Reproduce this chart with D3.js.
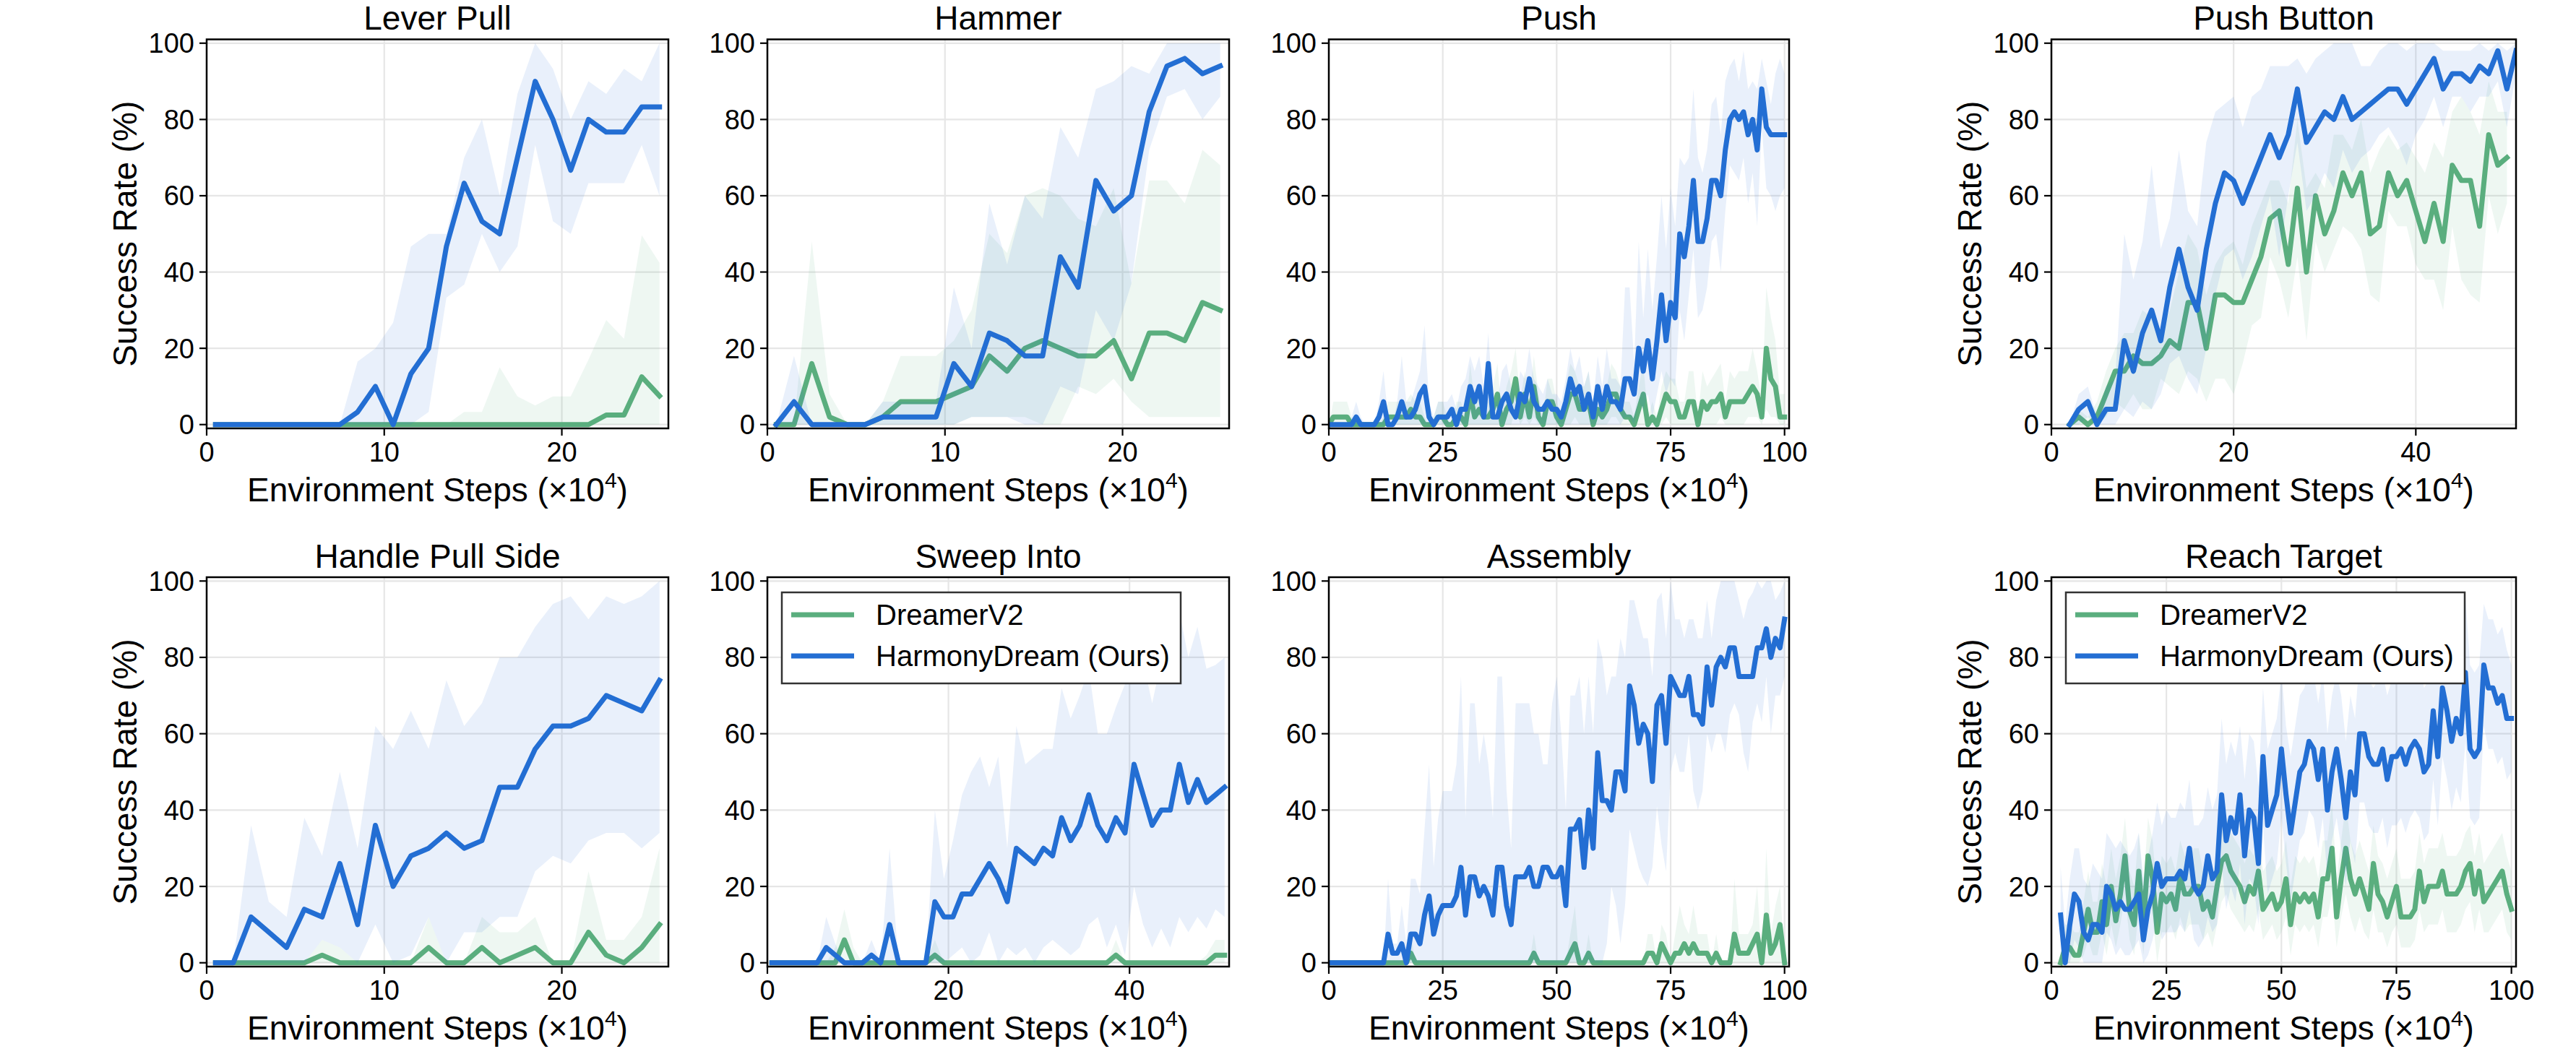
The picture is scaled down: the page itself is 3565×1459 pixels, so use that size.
<!DOCTYPE html>
<meta charset="utf-8">
<style>
body { margin: 0; background: #fff; }
text { font-family: "Liberation Sans", Arial, sans-serif; fill: #000; }
</style>
<body>
<script src="https://cdn.jsdelivr.net/npm/d3@7"></script>
<script>
// ---- Lever Pull (x = 0.5 .. 25.5) ----
var leverHarmony   = [0,0,0,0,0,0,0,0,3.3,10,0,13.3,20,46.7,63.3,53.3,50,70,90,80,66.7,80,76.7,76.7,83.3,83.3];
var leverHarmonyHi = [0,0,0,0,0,0,0,0,16.5,20,26.7,46.7,50,50,70,80,60,86.7,100,93.3,80,90,86.7,93.3,90,100];
var leverHarmonyLo = [0,0,0,0,0,0,0,0,0,0,0,0,3.3,33.3,36.7,50,40,46.7,73.3,53.3,50,63.3,63.3,63.3,73.3,60];
var leverDreamer   = [0,0,0,0,0,0,0,0,0,0,0,0,0,0,0,0,0,0,0,0,0,0,2.5,2.5,12.5,7.5];
var leverDreamerHi = [0,0,0,0,0,0,0,0,0,0,0,0,0,0,3.3,3.3,15,7.4,5,7.4,7.4,17,27.4,22.5,49.6,42.4];
var leverDreamerLo = [0,0,0,0,0,0,0,0,0,0,0,0,0,0,0,0,0,0,0,0,0,0,0,0,0,0];

// ---- Hammer (x = 0.5 .. 25.5) ----
var hammerHarmony   = [0,6,0,0,0,0,2,2,2,2,16,10,24,22,18,18,44,36,64,56,60,82,94,96,92,94];
var hammerHarmonyHi = [0,18,0,0,0,0,6,6,6,6,36,20,58,42,60,54,78,70,88,90,94,92,100,100,100,100];
var hammerHarmonyLo = [0,0,0,0,0,0,0,0,0,0,0,2,2,2,0,0,10,8,30,22,37,72,86,88,80,86];
var hammerDreamer   = [0,0,16,2,0,0,2,6,6,6,8,10,18,14,20,22,20,18,18,22,12,24,24,22,32,30];
var hammerDreamerHi = [0,0,48,8,0,0,6,18,18,18,22,30,50,45,60,62,60,54,52,62,37,64,64,58,72,68];
var hammerDreamerLo = [0,0,0,0,0,0,0,0,0,0,0,2,2,2,2,0,0,10,8,12,6,2,2,2,2,2];

// ---- Push (x = 0 .. 100) ----
var pushHarmony = [0,0,0,0,0,0,2,0,0,0, 0,2,6,0,0,2,6,2,2,4, 8,10,2,0,2,2,2,4,0,4,
  4,10,6,10,2,16,2,2,6,8, 4,2,8,6,12,6,4,4,6,4, 4,2,6,12,8,10,4,8,2,10,
  4,10,6,6,4,12,12,8,20,14, 22,12,22,34,22,32,28,50,44,52, 64,48,48,54,64,64,60,72,80,82,
  80,82,76,80,72,88,78,76,76,76,76];
var pushHarmonyHi = [0,0,0,0,0,2,6,2,0,0, 0,6,14,2,0,6,18,6,6,10, 14,26,6,2,6,6,6,8,4,10,
  12,18,14,18,10,24,6,6,14,16, 10,6,14,12,20,12,10,8,12,8, 8,6,12,20,14,18,10,14,6,18,
  10,20,12,12,10,36,36,16,48,28, 46,30,44,60,46,62,52,70,68,70, 88,70,66,72,84,86,76,90,94,96,
  90,98,88,90,88,96,90,84,92,96,92];
var pushHarmonyLo = [0,0,0,0,0,0,0,0,0,0, 0,0,0,0,0,0,0,0,0,0, 0,0,0,0,0,0,0,0,0,0,
  0,0,0,0,0,0,0,0,0,0, 0,0,0,0,0,0,0,0,0,0, 0,0,0,0,0,0,0,0,0,0,
  0,0,0,0,0,2,2,0,6,4, 8,2,8,14,8,12,10,30,22,34, 46,28,30,36,48,50,40,56,68,66,
  64,70,58,66,52,78,62,60,56,60,62];
var pushDreamer = [0,2,2,2,2,0,0,0,0,0, 0,0,0,2,2,2,2,2,4,2, 2,0,0,0,2,2,0,0,2,2,
  0,8,2,4,2,2,4,8,0,4, 6,12,2,8,2,10,2,0,6,6, 2,0,4,8,8,4,4,6,0,4,
  2,4,8,8,4,2,2,0,4,8, 0,2,0,4,8,6,6,2,2,6, 6,0,6,4,6,6,8,2,6,6,
  6,6,8,10,8,2,20,12,10,2,2];
var pushDreamerHi = [0,6,6,6,6,2,0,0,0,0, 0,0,2,6,6,6,6,6,8,6, 6,2,0,2,6,6,2,0,6,6,
  2,16,6,10,6,6,10,16,2,10, 14,20,6,14,6,18,8,2,12,12, 6,2,10,16,14,10,10,14,2,10,
  6,10,16,14,10,6,6,2,10,16, 2,6,2,10,14,12,12,6,6,14, 14,2,14,10,12,14,16,6,14,12,
  14,14,14,20,14,6,36,28,22,8,8];
var pushDreamerLo = [0,0,0,0,0,0,0,0,0,0, 0,0,0,0,0,0,0,0,0,0, 0,0,0,0,0,0,0,0,0,0,
  0,0,0,0,0,0,0,0,0,0, 0,4,0,2,0,2,0,0,0,0, 0,0,0,0,2,0,0,0,0,0,
  0,0,2,2,0,0,0,0,0,0, 0,0,0,0,2,0,0,0,0,0, 0,0,0,0,0,0,2,0,0,0,
  0,0,2,2,2,0,4,2,2,0,0];

// ---- Push Button (harmony x = 2 .. 51, dreamer x = 2 .. 50) ----
var buttonHarmony   = [0,4,6,0,4,4,22,14,24,30, 22,36,46,36,30,46,58,66,64,58, 64,70,76,70,76,88,74,78,82,80,
  86,80,82,84,86,88,88,84,88,92, 96,88,92,92,90,94,92,98,88,98];
var buttonHarmonyHi = [0,8,10,2,10,12,50,38,48,68, 46,54,72,56,52,74,82,84,86,78, 86,88,94,94,94,96,92,96,98,100,
  100,100,94,94,98,100,100,98,100,100, 100,98,98,98,98,100,98,100,98,100];
var buttonHarmonyLo = [0,0,2,0,0,0,4,2,6,4, 8,16,18,12,8,20,34,44,46,38, 44,52,60,44,60,74,56,60,66,62,
  72,66,70,72,76,78,74,68,76,80, 86,78,86,86,82,86,86,90,78,92];
var buttonDreamer   = [0,2,0,2,8,14,14,18,16,16, 18,22,20,32,32,20,34,34,32,32, 38,44,54,56,42,62,40,60,50,56,
  66,60,66,50,52,66,60,64,56,48, 58,48,68,64,64,52,76,68,70];
var buttonDreamerHi = [0,4,2,6,14,20,24,24,30,28, 24,30,40,50,46,34,42,46,48,42, 52,58,64,64,58,80,62,66,62,76,
  76,72,80,66,72,76,72,74,70,66, 74,70,82,86,82,76,90,82,82];
var buttonDreamerLo = [0,0,0,0,2,6,4,8,4,4, 12,10,8,14,12,6,12,12,8,16, 26,28,44,38,28,44,22,48,40,46,
  52,50,46,34,32,56,52,52,42,38, 38,30,52,38,34,32,60,50,58];

// ---- Handle Pull Side (x = 0.5 .. 25.5) ----
var handleHarmony   = [0,0,12,8,4,14,12,26,10,36,20,28,30,34,30,32,46,46,56,62,62,64,70,68,66,74];
var handleHarmonyHi = [0,0,36,16,12,38,28,50,30,62,56,66,56,74,62,68,80,80,88,94,96,90,96,94,96,100];
var handleHarmonyLo = [0,0,0,0,0,0,6,4,0,10,0,2,12,0,8,8,12,12,24,28,26,32,34,34,30,34];
var handleDreamer   = [0,0,0,0,0,0,2,0,0,0,0,0,4,0,0,4,0,2,4,0,0,8,2,0,4,10];
var handleDreamerHi = [0,0,0,0,0,0,6,4,0,0,0,0,12,0,0,12,8,8,12,0,0,24,6,6,12,30];
var handleDreamerLo = [0,0,0,0,0,0,0,0,0,0,0,0,0,0,0,0,0,0,0,0,0,0,0,0,0,0];

// ---- Sweep Into (x = 0.5 .. 50.5) ----
var sweepHarmony   = [0,0,0,0,0,0,4,2,0,0, 0,2,0,10,0,0,0,0,16,12, 12,18,18,22,26,22,16,30,28,26,
  30,28,38,32,36,44,36,32,38,34, 52,44,36,40,40,52,42,48,42,44, 46];
var sweepHarmonyHi = [0,0,0,0,0,0,12,5,0,0, 0,6,0,30,0,0,0,0,40,22, 32,44,50,54,46,54,30,62,52,54,
  56,56,72,64,70,77,60,60,67,73, 82,79,68,79,77,92,80,88,77,78, 80];
var sweepHarmonyLo = [0,0,0,0,0,0,0,0,0,0, 0,0,0,0,0,0,0,0,0,0, 2,4,0,2,8,0,4,2,4,0,
  4,6,4,2,4,10,12,4,10,2, 20,10,4,9,4,12,8,12,9,14, 12];
var sweepDreamer   = [0,0,0,0,0,0,0,0,6,0, 0,0,0,0,0,0,0,0,2,0, 0,0,0,0,0,0,0,0,0,0,
  0,0,0,0,0,0,0,0,2,0, 0,0,0,0,0,0,0,0,0,2, 2];
var sweepDreamerHi = [0,0,0,0,0,0,0,4,14,4, 0,0,0,0,0,0,0,0,6,0, 0,0,0,0,0,0,0,0,0,0,
  0,0,0,0,0,0,0,0,6,0, 0,0,0,0,0,0,0,0,2,6, 6];
var sweepDreamerLo = [0,0,0,0,0,0,0,0,0,0, 0,0,0,0,0,0,0,0,0,0, 0,0,0,0,0,0,0,0,0,0,
  0,0,0,0,0,0,0,0,0,0, 0,0,0,0,0,0,0,0,0,0, 0];

// ---- Assembly (x = 0 .. 100) ----
var assemblyHarmony = [0,0,0,0,0,0,0,0,0,0, 0,0,0,7.5,2.5,2.5,5,0,7.5,7.5, 5,12.5,17.5,7.5,12.5,15,15,15,17.5,25,
  12.5,22.5,22.5,17.5,20,17.5,12.5,25,25,15, 10,22.5,22.5,22.5,25,20,20,25,25,22.5,
  22.5,25,15,35,35,37.5,25,40,30,55, 42.5,42.5,40,50,50,45,72.5,67.5,57.5,62.5,
  60,47.5,67.5,70,57.5,75,72.5,70,70,75, 65,65,62.5,77.5,67.5,77.5,80,77.5,82.5,82.5,
  75,75,75,75,82.5,82.5,87.5,80,85,82.5,90];
var assemblyHarmonyHi = [0,0,0,0,0,0,0,0,0,0, 0,0,0,22,5,5,15,5,22,22, 18,35,52,25,38,45,45,45,52,75,
  38,68,68,52,60,52,38,75,75,45, 30,68,68,68,68,60,60,52,52,68,
  75,60,40,70,70,75,60,75,60,85, 80,70,75,75,85,80,95,95,90,85,
  85,75,95,97,85,100,90,90,85,90, 90,85,85,95,85,95,100,100,100,100,
  95,90,95,97,100,98,100,100,95,97,100];
var assemblyHarmonyLo = [0,0,0,0,0,0,0,0,0,0, 0,0,0,0,0,0,0,0,0,0, 0,0,0,0,0,0,0,0,0,0,
  0,0,0,0,0,0,0,0,0,0, 0,0,0,0,0,0,0,0,0,0, 0,0,0,0,0,0,0,0,0,0,
  0,5,20,15,5,15,35,30,25,22, 20,25,41,31,24,50,55,50,50,60, 45,40,45,60,55,60,60,55,65,68,
  65,55,50,63,68,63,75,60,70,70,75];
var assemblyDreamer = [0,0,0,0,0,0,0,0,0,0, 0,0,0,0,0,0,0,0,2.5,0, 0,0,0,0,0,0,0,0,0,0,
  0,0,0,0,0,0,0,0,0,0, 0,0,0,0,0,2.5,0,0,0,0, 0,0,0,2.5,5,0,0,2.5,0,0,
  0,0,0,0,0,0,0,0,0,0, 2.5,2.5,0,5,2.5,0,2.5,2.5,5,2.5, 5,2.5,2.5,2.5,0,2.5,0,0,0,7.5,
  2.5,2.5,2.5,5,7.5,0,12.5,2.5,5,10,0];
var assemblyDreamerHi = [0,0,0,0,0,0,0,0,0,0, 0,0,0,0,0,0,0,0,7.5,0, 0,0,0,0,0,0,0,0,0,0,
  0,0,0,0,0,0,0,0,0,0, 0,0,0,0,0,7.5,0,0,0,0, 0,0,0,7.5,15,0,0,7.5,0,0,
  0,0,0,0,0,0,0,0,0,0, 7.5,7.5,0,10,7.5,0,7.5,15,10,7.5, 15,7.5,7.5,7.5,0,7.5,0,0,0,22,
  7.5,7.5,7.5,10,20,0,30,7.5,15,20,0];
var assemblyDreamerLo = assemblyDreamer.map(function() { return 0; });

// ---- Reach Target (x = 2 .. 100) ----
var reachHarmony = [12.5,0,10,18,16,8,6,10,10,8, 20,18,14,16,14,14,16,18,6,14,
  18,26,20,22,22,22,24,22,30,20, 18,20,28,22,24,44,32,38,34,44,
  28,40,38,26,54,36,40,44,56,44, 34,42,50,52,58,56,48,56,40,50,
  56,48,38,50,44,60,60,54,52,52, 56,48,54,54,56,52,56,58,56,50,
  52,66,54,72,66,58,64,60,76,56, 54,56,78,72,72,68,70,64,64];
var reachHarmonyHi = [25,10,22,30,30,22,20,26,24,22, 34,32,30,32,30,28,30,34,22,28,
  34,42,36,40,38,38,42,40,48,36, 36,38,46,40,44,64,52,58,54,62,
  48,60,58,46,72,56,60,64,76,62, 54,62,70,72,78,76,68,76,60,70,
  76,70,58,70,64,80,80,74,72,74, 76,70,74,76,78,74,78,80,78,72,
  74,86,76,90,86,80,86,82,96,78, 76,78,94,90,90,86,88,82,78];
var reachHarmonyLo = [0,0,0,6,4,0,0,0,0,0, 8,6,2,4,2,2,4,6,0,2,
  6,12,6,8,8,8,10,8,14,6, 4,6,12,8,10,26,14,20,16,26,
  10,22,20,10,36,18,22,26,38,26, 16,24,32,34,40,38,30,38,22,32,
  38,30,20,32,26,42,42,36,34,34, 38,30,36,36,38,34,38,40,38,32,
  34,48,36,54,48,40,46,42,58,38, 36,38,62,56,56,52,54,48,50];
var reachDreamer = [0,4,4,2,2,8,14,8,8,16, 10,20,11,18,28,13.6,10,24,10,28,
  22,8,18,16,18,14,22.5,18,18,20, 20,14,16,12,20,26.6,28,24,22,20,
  16,20,18,24,14,16,18,14,16,22, 10,18,16,18,16,18,12,22,22,30,
  12,22,30,22,18,22,18,14,26,18, 16,12,16,20,12,12,12,14,24,16,
  20,20,20,24,18,18,18,20,24,26, 18,24,16,18,20,22,24,18,14];
var reachDreamerHi = [2,10,10,8,8,16,24,16,16,26, 20,30,22,28,38,24,20,34,20,38,
  32,18,28,26,28,24,32,28,28,30, 30,24,26,22,30,36,38,34,32,30,
  26,30,28,34,24,26,28,24,26,32, 20,28,26,28,26,28,22,32,32,42,
  22,32,42,32,28,32,28,24,36,28, 26,22,26,30,22,22,22,24,34,26,
  30,30,30,34,28,28,28,30,34,36, 28,34,26,28,30,32,34,28,24];
var reachDreamerLo = [0,0,0,0,0,2,6,2,2,8, 2,10,4,10,18,6,2,14,2,18,
  12,0,8,8,10,6,12,8,10,10, 10,6,8,4,10,16,18,14,12,10,
  8,10,8,14,6,8,10,6,8,12, 2,10,8,10,8,10,4,12,12,18,
  4,12,18,12,8,12,8,6,14,8, 8,4,8,10,4,4,4,6,14,8,
  10,10,10,14,8,8,8,10,14,16, 8,14,8,8,10,12,14,8,6];

var yTicks = [0, 20, 40, 60, 80, 100];

// ---- layout ----
var width = 3565, height = 1459;
var colLeft  = [286, 1062, 1839, 2839],
    colRight = [925, 1701, 2476, 3482];
var rowTop    = [54.5, 799],
    rowBottom = [593, 1338];

var green = "#5aae7e", blue = "#236ed3";

var panels = [
  {title: "Lever Pull", row: 0, col: 0, xMax: 26, xTicks: [0, 10, 20], yLabel: true,
   dreamer: {x0: 0.5, m: leverDreamer, lo: leverDreamerLo, hi: leverDreamerHi},
   harmony: {x0: 0.5, m: leverHarmony, lo: leverHarmonyLo, hi: leverHarmonyHi}},
  {title: "Hammer", row: 0, col: 1, xMax: 26, xTicks: [0, 10, 20],
   dreamer: {x0: 0.5, m: hammerDreamer, lo: hammerDreamerLo, hi: hammerDreamerHi},
   harmony: {x0: 0.5, m: hammerHarmony, lo: hammerHarmonyLo, hi: hammerHarmonyHi}},
  {title: "Push", row: 0, col: 2, xMax: 101, xTicks: [0, 25, 50, 75, 100],
   dreamer: {x0: 0, m: pushDreamer, lo: pushDreamerLo, hi: pushDreamerHi},
   harmony: {x0: 0, m: pushHarmony, lo: pushHarmonyLo, hi: pushHarmonyHi}},
  {title: "Push Button", row: 0, col: 3, xMax: 51, xTicks: [0, 20, 40], yLabel: true,
   dreamer: {x0: 2, m: buttonDreamer, lo: buttonDreamerLo, hi: buttonDreamerHi},
   harmony: {x0: 2, m: buttonHarmony, lo: buttonHarmonyLo, hi: buttonHarmonyHi}},
  {title: "Handle Pull Side", row: 1, col: 0, xMax: 26, xTicks: [0, 10, 20], yLabel: true,
   dreamer: {x0: 0.5, m: handleDreamer, lo: handleDreamerLo, hi: handleDreamerHi},
   harmony: {x0: 0.5, m: handleHarmony, lo: handleHarmonyLo, hi: handleHarmonyHi}},
  {title: "Sweep Into", row: 1, col: 1, xMax: 51, xTicks: [0, 20, 40], legend: true,
   dreamer: {x0: 0.5, m: sweepDreamer, lo: sweepDreamerLo, hi: sweepDreamerHi},
   harmony: {x0: 0.5, m: sweepHarmony, lo: sweepHarmonyLo, hi: sweepHarmonyHi}},
  {title: "Assembly", row: 1, col: 2, xMax: 101, xTicks: [0, 25, 50, 75, 100],
   dreamer: {x0: 0, m: assemblyDreamer, lo: assemblyDreamerLo, hi: assemblyDreamerHi},
   harmony: {x0: 0, m: assemblyHarmony, lo: assemblyHarmonyLo, hi: assemblyHarmonyHi}},
  {title: "Reach Target", row: 1, col: 3, xMax: 101, xTicks: [0, 25, 50, 75, 100], yLabel: true, legend: true,
   dreamer: {x0: 2, m: reachDreamer, lo: reachDreamerLo, hi: reachDreamerHi},
   harmony: {x0: 2, m: reachHarmony, lo: reachHarmonyLo, hi: reachHarmonyHi}}
];

var svg = d3.select("body").append("svg")
    .attr("width", width)
    .attr("height", height)
    .style("display", "block");

svg.append("rect").attr("width", width).attr("height", height).attr("fill", "#fff");

function toPoints(s) {
  return s.m.map(function(v, i) {
    return {x: s.x0 + i, y: v, lo: s.lo[i], hi: s.hi[i]};
  });
}

panels.forEach(function(p, k) {
  var left = colLeft[p.col], right = colRight[p.col],
      top = rowTop[p.row], bottom = rowBottom[p.row];

  var x = d3.scaleLinear().domain([0, p.xMax]).range([left, right]);
  var y = d3.scaleLinear().domain([-1, 101]).range([bottom, top]);

  var g = svg.append("g");

  g.append("clipPath").attr("id", "clip" + k)
    .append("rect")
      .attr("x", left).attr("y", top)
      .attr("width", right - left).attr("height", bottom - top);

  // grid
  g.selectAll(".gx").data(p.xTicks).enter().append("line")
      .attr("x1", function(d) { return x(d); }).attr("x2", function(d) { return x(d); })
      .attr("y1", top).attr("y2", bottom)
      .attr("stroke", "#e6e6e6").attr("stroke-width", 2.2);
  g.selectAll(".gy").data(yTicks).enter().append("line")
      .attr("x1", left).attr("x2", right)
      .attr("y1", function(d) { return y(d); }).attr("y2", function(d) { return y(d); })
      .attr("stroke", "#e6e6e6").attr("stroke-width", 2.2);

  var plot = g.append("g").attr("clip-path", "url(#clip" + k + ")");

  var area = d3.area()
      .x(function(d) { return x(d.x); })
      .y0(function(d) { return y(d.lo); })
      .y1(function(d) { return y(d.hi); });
  var line = d3.line()
      .x(function(d) { return x(d.x); })
      .y(function(d) { return y(d.y); });

  [[p.dreamer, green], [p.harmony, blue]].forEach(function(s) {
    var pts = toPoints(s[0]);
    plot.append("path").attr("d", area(pts))
        .attr("fill", s[1]).attr("fill-opacity", 0.1);
    plot.append("path").attr("d", line(pts))
        .attr("fill", "none").attr("stroke", s[1])
        .attr("stroke-width", 7).attr("stroke-linejoin", "round")
        .attr("stroke-linecap", "square");
  });

  // spines
  g.append("rect")
      .attr("x", left).attr("y", top)
      .attr("width", right - left).attr("height", bottom - top)
      .attr("fill", "none").attr("stroke", "#000").attr("stroke-width", 2.5);

  // x ticks
  var xt = g.selectAll(".xt").data(p.xTicks).enter().append("g");
  xt.append("line")
      .attr("x1", function(d) { return x(d); }).attr("x2", function(d) { return x(d); })
      .attr("y1", bottom).attr("y2", bottom + 10)
      .attr("stroke", "#000").attr("stroke-width", 2.2);
  xt.append("text")
      .attr("x", function(d) { return x(d); })
      .attr("y", bottom + 46)
      .attr("text-anchor", "middle")
      .attr("font-size", 38)
      .text(function(d) { return d; });

  // y ticks
  var yt = g.selectAll(".yt").data(yTicks).enter().append("g");
  yt.append("line")
      .attr("x1", left - 10).attr("x2", left)
      .attr("y1", function(d) { return y(d); }).attr("y2", function(d) { return y(d); })
      .attr("stroke", "#000").attr("stroke-width", 2.2);
  yt.append("text")
      .attr("x", left - 17)
      .attr("y", function(d) { return y(d) + 13.5; })
      .attr("text-anchor", "end")
      .attr("font-size", 38)
      .text(function(d) { return d; });

  // title
  g.append("text")
      .attr("x", (left + right) / 2).attr("y", top - 13.5)
      .attr("text-anchor", "middle").attr("font-size", 46)
      .text(p.title);

  // x label
  var xl = g.append("text")
      .attr("x", (left + right) / 2).attr("y", bottom + 101)
      .attr("text-anchor", "middle").attr("font-size", 46);
  xl.append("tspan").text("Environment Steps (\u00d710");
  xl.append("tspan").attr("font-size", 30).attr("dy", -19).text("4");
  xl.append("tspan").attr("dy", 19).text(")");

  if (p.yLabel) {
    g.append("text")
        .attr("transform", "translate(" + (left - 114) + "," + ((top + bottom) / 2) + ") rotate(-90)")
        .attr("dy", "0.36em")
        .attr("text-anchor", "middle").attr("font-size", 46)
        .text("Success Rate (%)");
  }

  if (p.legend) {
    var lx = left + 20, ly = top + 21;
    var lg = g.append("g");
    lg.append("rect")
        .attr("x", lx).attr("y", ly).attr("width", 552).attr("height", 126)
        .attr("fill", "#fff").attr("stroke", "#333").attr("stroke-width", 2.5);
    [["DreamerV2", green], ["HarmonyDream (Ours)", blue]].forEach(function(e, i) {
      var cy = ly + 31 + i * 57;
      lg.append("line")
          .attr("x1", lx + 13).attr("x2", lx + 100)
          .attr("y1", cy).attr("y2", cy)
          .attr("stroke", e[1]).attr("stroke-width", 7);
      lg.append("text")
          .attr("x", lx + 130).attr("y", cy + 14)
          .attr("font-size", 40)
          .text(e[0]);
    });
  }
});
</script>
